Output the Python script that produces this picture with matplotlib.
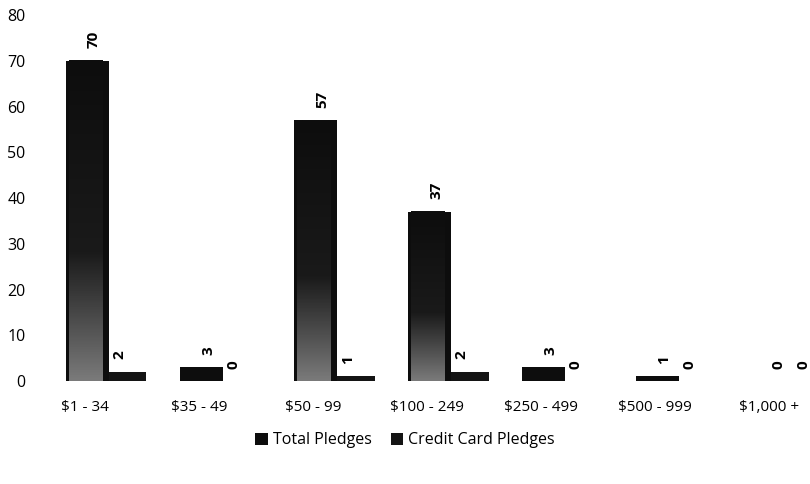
import matplotlib.pyplot as plt
import numpy as np
from matplotlib.colors import LinearSegmentedColormap

plt.rcParams['font.family'] = ['Open Sans', 'DejaVu Sans']

categories = ['$1 - 34', '$35 - 49', '$50 - 99', '$100 - 249', '$250 - 499', '$500 - 999', '$1,000 +']
total_pledges = [70, 3, 57, 37, 3, 1, 0]
credit_pledges = [2, 0, 1, 2, 0, 0, 0]

fig = plt.figure(figsize=(8.1, 4.84), dpi=100)
ax = fig.add_axes([0.0556, 0.2128, 0.9444, 0.7562])

x = np.arange(len(categories))
w1 = 0.38
w2 = 0.33
b1 = ax.bar(x + 0.02, total_pledges, w1, color='#0d0d0d', label='Total Pledges')
b2 = ax.bar(x + 0.02 + w1 / 2 + w2 / 2, credit_pledges, w2, color='#141414', label='Credit Card Pledges')

# scanned look: a little grey at the foot of the tall bars
cmap = LinearSegmentedColormap.from_list('scan', [(0, '#7a7a7a'), (0.15, '#555555'),
                                                  (0.4, '#1a1a1a'), (1, '#0d0d0d')])
for r in b1:
    h = r.get_height()
    if h > 10:
        grad = np.linspace(0, 1, 200).reshape(-1, 1)
        ax.imshow(grad, extent=(r.get_x() + 0.03, r.get_x() + r.get_width() - 0.06, 0, h),
                  origin='lower', cmap=cmap, aspect='auto', zorder=2)

for bars, dx in ((b1, 0.06), (b2, -0.07)):
    for r in bars:
        ax.annotate(f'{int(r.get_height())}', (r.get_x() + r.get_width() / 2 + dx, r.get_height()),
                    xytext=(0, 9), textcoords='offset points', rotation=90,
                    ha='center', va='bottom', fontsize=11, fontweight='bold',
                    annotation_clip=False)

ax.set_xlim(-0.35, 6.36)
ax.set_ylim(0, 80)
ax.set_yticks(range(0, 81, 10))
ax.set_xticks(x)
ax.set_xticklabels(categories, fontsize=11)
ax.tick_params(axis='y', labelsize=11.5, length=0, pad=14)
ax.tick_params(axis='x', length=0, pad=14)
for s in ax.spines.values():
    s.set_visible(False)

fig.legend(handles=[b1, b2], loc='center', bbox_to_anchor=(0.5, 0.09), ncol=2, frameon=False,
           fontsize=11.5, handlelength=0.8, handleheight=0.8, handletextpad=0.3, columnspacing=1.2)

fig.savefig('out.png', dpi=100)
